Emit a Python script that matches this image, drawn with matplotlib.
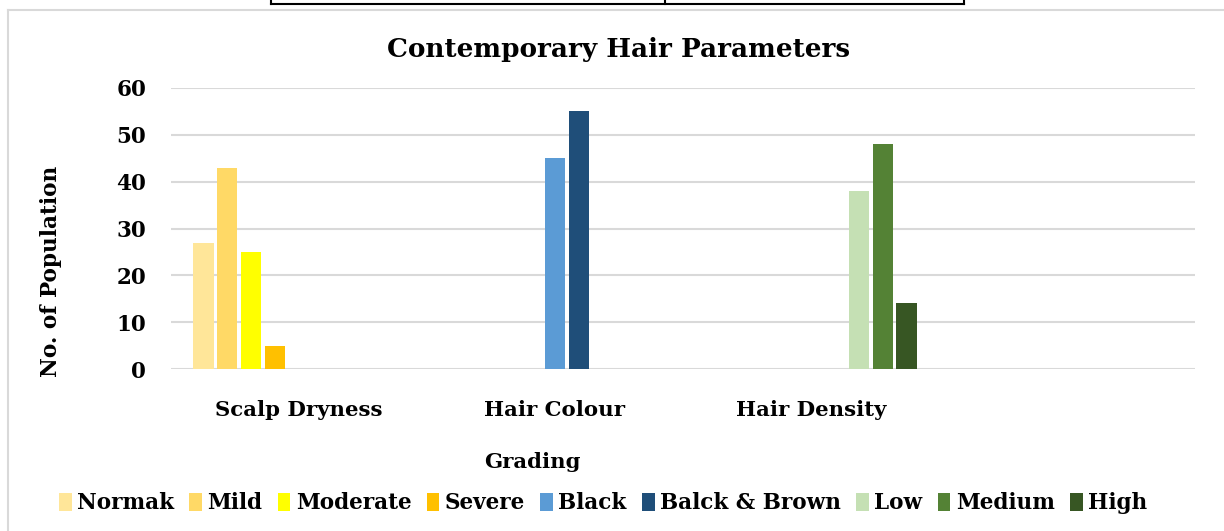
import numpy as np
import matplotlib
matplotlib.use('Agg')
import matplotlib.pyplot as plt
from matplotlib.patches import Rectangle
from matplotlib.lines import Line2D

# chart data
categories = ['Scalp Dryness', 'Hair Colour', 'Hair Density', '']
series_names = ['Normak', 'Mild', 'Moderate', 'Severe', 'Black',
                'Balck & Brown', 'Low', 'Medium', 'High']
series_colors = ['#FFE699', '#FFD966', '#FFFF00', '#FFC000', '#5B9BD5',
                 '#1F4E79', '#C5E0B4', '#548235', '#375623']
# one value per category for each series (0 = not applicable)
normak = [27, 0, 0, 0]
mild = [43, 0, 0, 0]
moderate = [25, 0, 0, 0]
severe = [5, 0, 0, 0]
black = [0, 45, 0, 0]
black_brown = [0, 55, 0, 0]
low = [0, 0, 38, 0]
medium = [0, 0, 48, 0]
high = [0, 0, 14, 0]
series_values = [normak, mild, moderate, severe, black,
                 black_brown, low, medium, high]
y_ticks = [0, 10, 20, 30, 40, 50, 60]

FONT = 'DejaVu Serif'
W, H = 1224, 531

fig = plt.figure(figsize=(W / 100, H / 100), dpi=100, facecolor='white')

# outer chart border (light grey, only top and left visible) and the table edge above it
border_y = 1 - 10 / H
fig.add_artist(Line2D([8 / W, 1.0], [border_y, border_y],
                      transform=fig.transFigure, color='#d9d9d9', lw=1.5))
fig.add_artist(Line2D([8 / W, 8 / W], [0, border_y],
                      transform=fig.transFigure, color='#d9d9d9', lw=1.5))
tbl_y = 1 - 4 / H
fig.add_artist(Line2D([271 / W, 964 / W], [tbl_y, tbl_y],
                      transform=fig.transFigure, color='black', lw=1.5))
for xv in [271, 665, 964]:
    fig.add_artist(Line2D([xv / W, xv / W], [tbl_y, 1.01],
                          transform=fig.transFigure, color='black', lw=1.5))

ax = fig.add_axes([171 / W, 162 / H, (1195 - 171) / W, (443 - 162) / H])

x = np.arange(len(categories))
slot = 0.84 / len(series_names)
bar_w = slot * 0.85
for i, (name, vals, col) in enumerate(zip(series_names, series_values, series_colors)):
    offs = (i - (len(series_names) - 1) / 2) * slot
    ax.bar(x + offs, vals, width=bar_w, color=col, label=name, zorder=3)

ax.set_xlim(-0.5, len(categories) - 0.5)
ax.set_ylim(0, 60)
ax.set_yticks(y_ticks)
ax.set_xticks(x)
ax.set_xticklabels(categories)
ax.grid(axis='y', color='#d9d9d9', linewidth=1.5, zorder=0)
for s in ax.spines.values():
    s.set_visible(False)
ax.tick_params(length=0)
ax.tick_params(axis='y', pad=18)
ax.tick_params(axis='x', pad=22)
for lbl in ax.get_xticklabels():
    lbl.set_fontfamily(FONT)
    lbl.set_fontweight('bold')
    lbl.set_fontsize(15.3)
for lbl in ax.get_yticklabels():
    lbl.set_fontfamily(FONT)
    lbl.set_fontweight('bold')
    lbl.set_fontsize(15.5)

ax.set_ylabel('No. of Population', fontfamily=FONT, fontweight='bold',
              fontsize=15.6)
ax.yaxis.set_label_coords((62 - 171) / 1024, (369 - 271) / 281)

fig.text(532 / W, 1 - 462 / H, 'Grading', ha='center', va='center',
         fontfamily=FONT, fontweight='bold', fontsize=15.3)
fig.text(619 / W, 1 - 50 / H, 'Contemporary Hair Parameters', ha='center',
         va='center', fontfamily=FONT, fontweight='bold', fontsize=18.9)

handles = [Rectangle((0, 0), 1, 1, facecolor=c, edgecolor='none')
           for c in series_colors]
fig.legend(handles, series_names, loc='center', bbox_to_anchor=(603 / W, 1 - 503 / H),
           ncol=len(series_names), frameon=False, handlelength=0.6,
           handleheight=0.9, handletextpad=0.25, columnspacing=0.7,
           prop={'family': FONT, 'weight': 'bold', 'size': 15.5})

fig.savefig('out.png', dpi=100, facecolor='white')
